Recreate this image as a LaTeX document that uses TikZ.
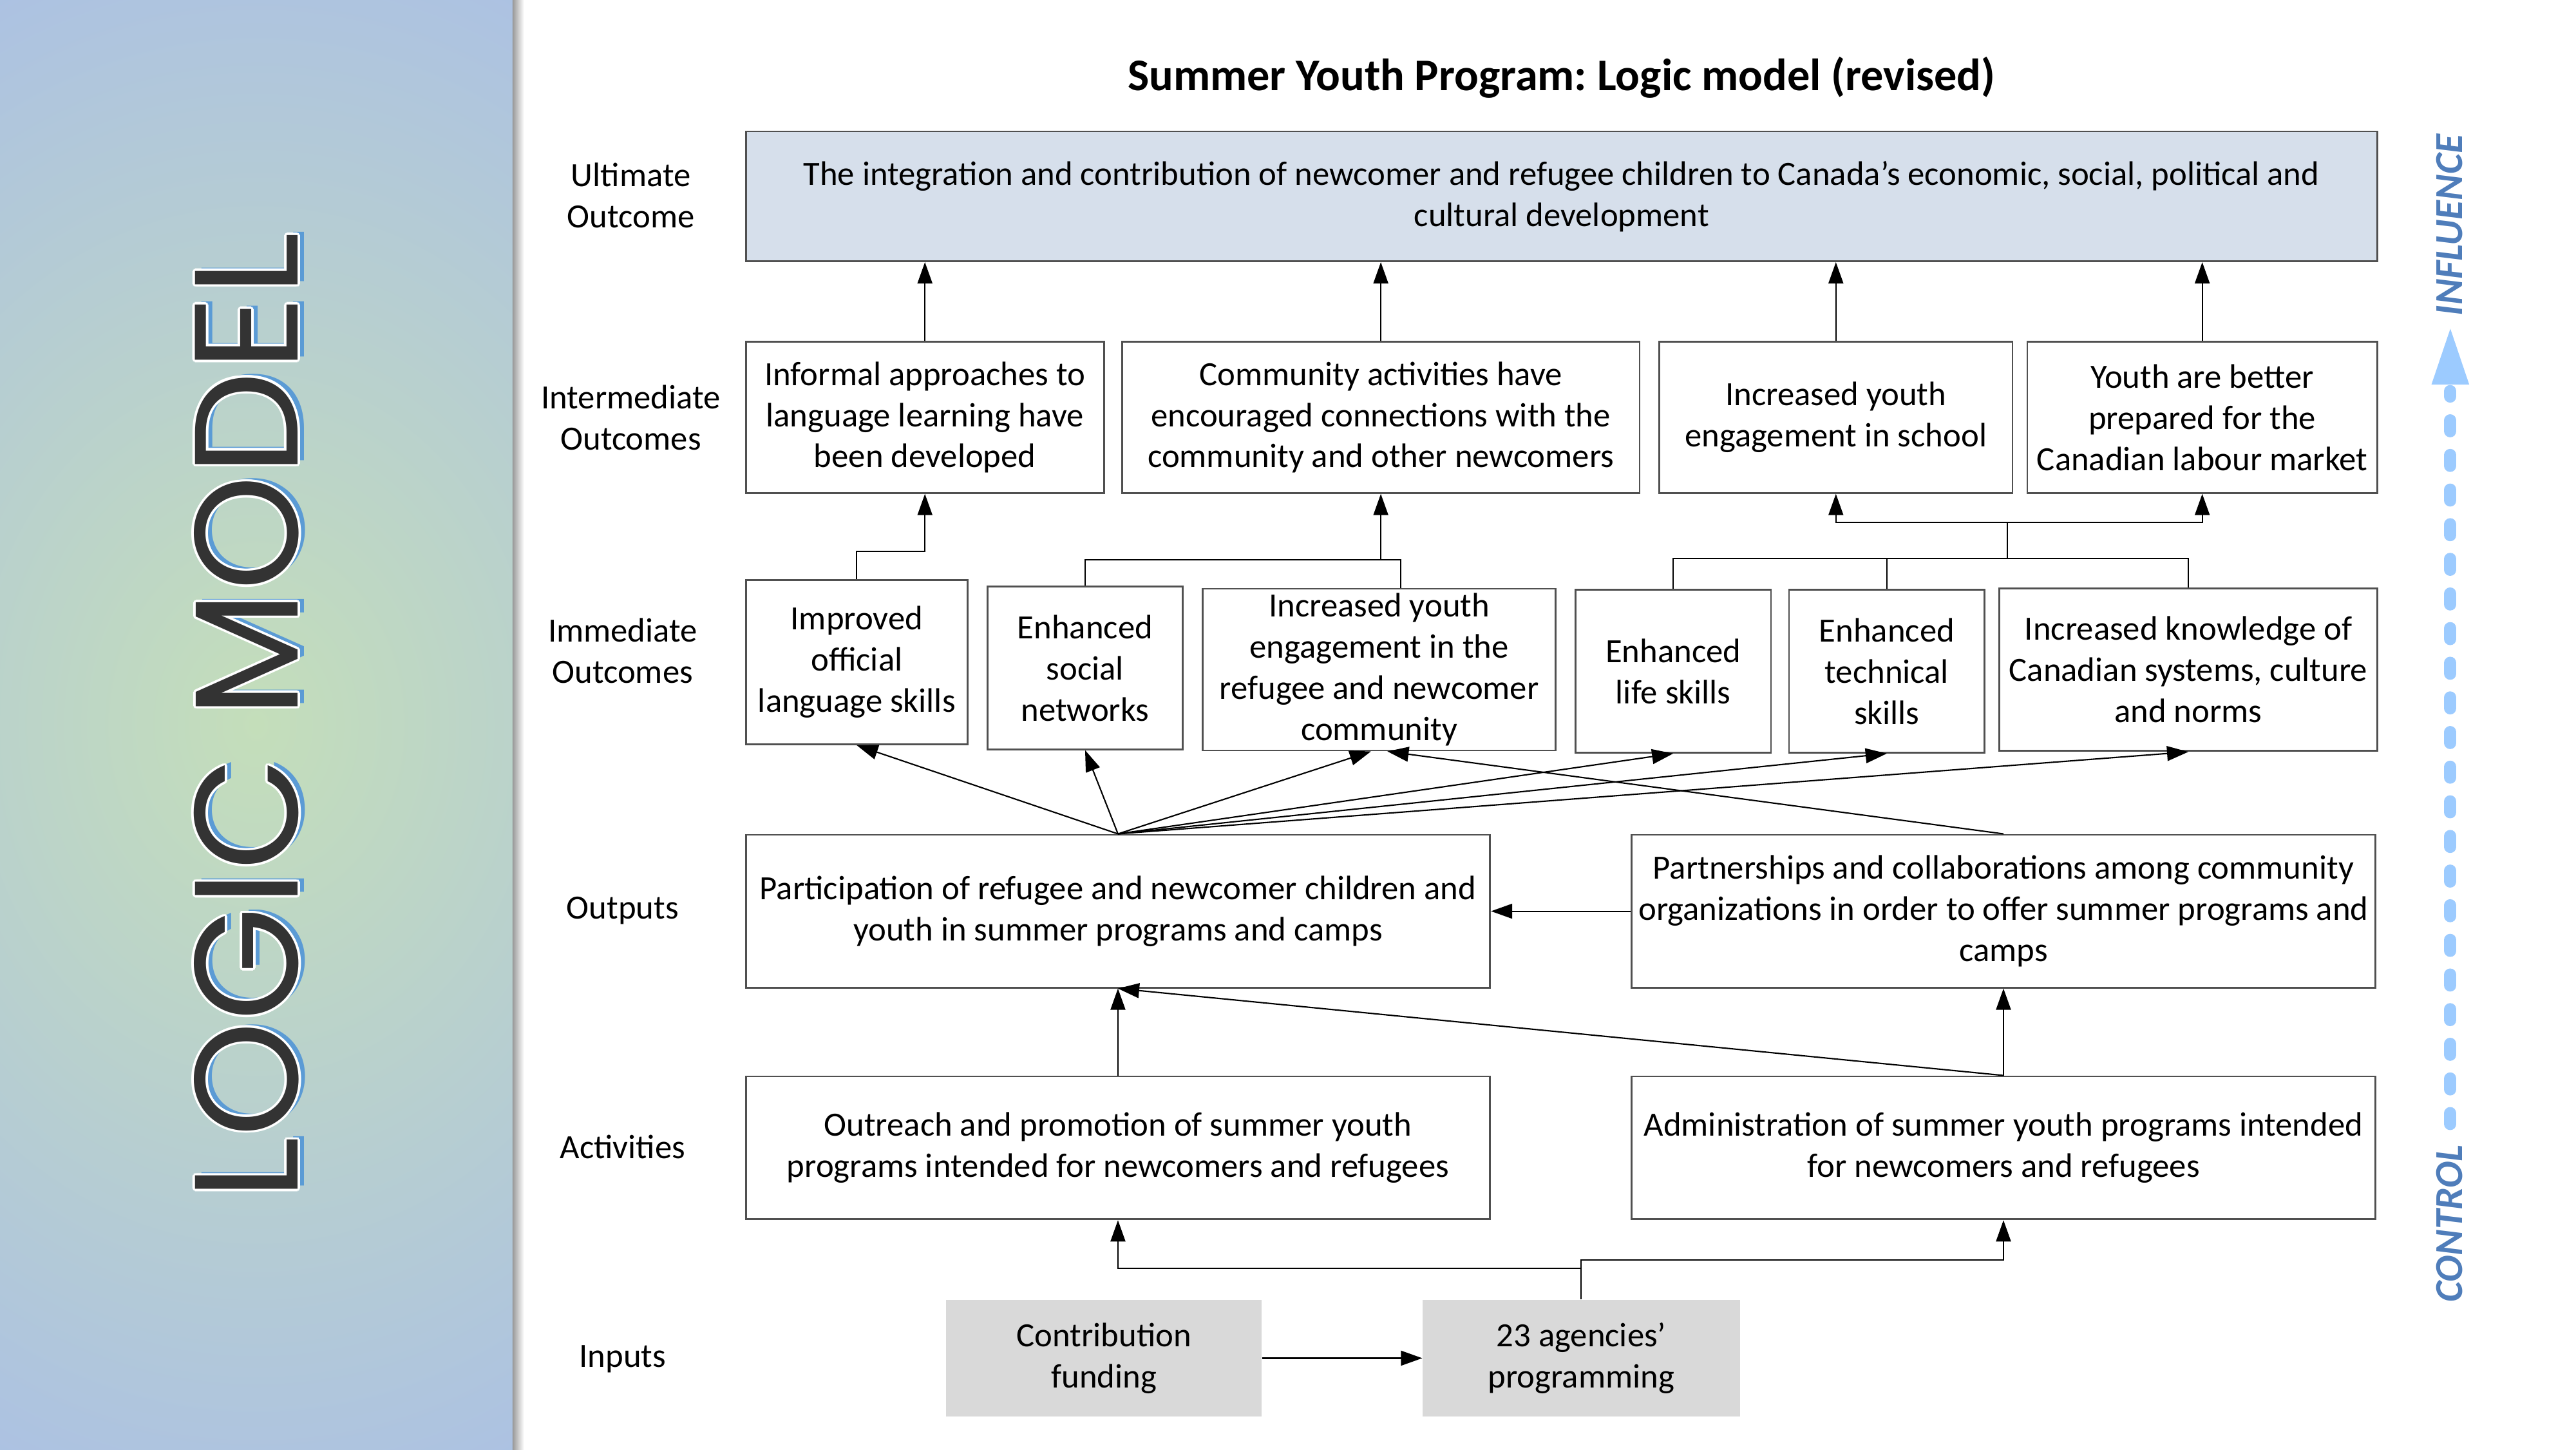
\documentclass[tikz,border=0pt]{standalone}
\usepackage{fontspec}
\setmainfont{Carlito}
\newfontfamily\logofont{Poppins}
\usetikzlibrary{arrows.meta,positioning,calc}
\definecolor{UltFill}{HTML}{D6DFEB}
\definecolor{InFill}{HTML}{D9D9D9}
\definecolor{BoxLine}{HTML}{505050}
\definecolor{PanelGreen}{HTML}{C4DEBA}
\definecolor{PanelBlue}{HTML}{AABFE6}
\definecolor{PanelLight}{HTML}{C6D3EC}
\definecolor{LogoShadow}{HTML}{5B9BD5}
\definecolor{LogoInk}{HTML}{333333}
\definecolor{GaugeText}{HTML}{4F7DBA}
\definecolor{GaugeArrow}{HTML}{9CCBFF}
\pgfdeclareradialshading{panel}{\pgfpoint{0bp}{0bp}}{color(0bp)=(PanelGreen); color(30bp)=(PanelBlue); color(44bp)=(PanelBlue); color(50bp)=(PanelLight)}
\def\px{0.2551mm}

\begin{document}
\begin{tikzpicture}[x=\px, y=-\px, >={Triangle[length=3.3mm,width=2.3mm]},
   font=\fontsize{15}{18.2}\selectfont,
   box/.style={draw=BoxLine, line width=0.8pt, align=center, inner sep=2pt},
   sz/.style 2 args={minimum width=#1*\px, minimum height=#2*\px},
   level/.style={align=center},
   arr/.style={->, line width=0.6pt},
   logo/.style={rotate=90, inner sep=0pt, font=\logofont\fontsize{65}{65}\selectfont},
   gauge/.style={rotate=90, inner sep=0pt, text=GaugeText,
                 font=\bfseries\itshape\fontsize{17.5}{17.5}\selectfont}]
  \useasboundingbox (0,0) rectangle (1568,882);

  % side panel
  \begin{scope}
    \clip (0,0) rectangle (312,882);
    \shade[shading=panel] (-200,0) rectangle (512,882);
  \end{scope}
  \shade[left color=black!40, right color=white] (312,0) rectangle (319,882);
  \node[logo, text=LogoShadow] (logoS) at (154,434) {LOGIC MODEL};
  \foreach \a in {0,30,...,330}
    \node[logo, text=white] (logoW\a) at ($(150,436)+(\a:1.4)$) {LOGIC MODEL};
  \node[logo, text=LogoInk] (logo) at (150,436) {LOGIC MODEL};

  \node[font=\bfseries\fontsize{20}{24}\selectfont\frenchspacing] (title) at (950.5,47)
    {Summer Youth Program: Logic model (revised)};

  % row labels
  \node[level] (lu) at (384,119) {Ultimate\\Outcome};
  \node[level] (li) at (384,254) {Intermediate\\Outcomes};
  \node[level] (lm) at (379,396) {Immediate\\Outcomes};
  \node[level] (lo) at (379,554) {Outputs};
  \node[level] (la) at (379,698) {Activities};
  \node[level] (lp) at (379,827) {Inputs};

  % boxes
  \node[box, fill=UltFill, sz={993}{79}] (u) at (950.5,119.5)
    {The integration and contribution of newcomer and refugee children to Canada’s economic, social, political and\\cultural development};

  \node[box, sz={218}{92}] (i1) at (563,254)    {Informal approaches to\\language learning have\\been developed};
  \node[box, sz={315}{92}] (i2) at (840.5,254)  {Community activities have\\encouraged connections with the\\community and other newcomers};
  \node[box, sz={215}{92}] (i3) at (1117.5,254) {Increased youth\\engagement in school};
  \node[box, sz={213}{92}] (i4) at (1340.5,254) {Youth are better\\prepared for the\\Canadian labour market};

  \node[box, sz={135}{100}] (m1) at (521.5,403)  {Improved\\official\\language skills};
  \node[box, sz={119}{99}]  (m2) at (660.5,406.5) {Enhanced\\social\\networks};
  \node[box, sz={215}{97}]  (m3) at (839.5,407.5) {Increased youth\\engagement in the\\refugee and newcomer\\community};
  \node[box, sz={119}{99}]  (m4) at (1018.5,408.5) {Enhanced\\life skills};
  \node[box, sz={119}{99}]  (m5) at (1148.5,408.5) {Enhanced\\technical\\skills};
  \node[box, sz={230}{99}]  (m6) at (1332,407.5)  {Increased knowledge of\\Canadian systems, culture\\and norms};

  \node[box, sz={453}{93}] (o1) at (680.5,554.5)  {Participation of refugee and newcomer children and\\youth in summer programs and camps};
  \node[box, sz={453}{93}] (o2) at (1219.5,554.5) {Partnerships and collaborations among community\\organizations in order to offer summer programs and\\camps};

  \node[box, sz={453}{87}] (a1) at (680.5,698.5)  {Outreach and promotion of summer youth\\programs intended for newcomers and refugees};
  \node[box, sz={453}{87}] (a2) at (1219.5,698.5) {Administration of summer youth programs intended\\for newcomers and refugees};

  \node[fill=InFill, align=center, sz={192}{71}] (p1) at (672,826.5) {Contribution\\funding};
  \node[fill=InFill, align=center, sz={193}{71}] (p2) at (962.5,826.5) {23 agencies’\\programming};

  % inputs -> activities
  \draw[arr] (p1) -- (p2);
  \draw[arr] (p2.north) -- ++(0,-19) -| (a1.south);
  \draw[arr] (p2.north) -- ++(0,-24) -| (a2.south);

  % activities -> outputs
  \draw[arr] (a1.north) -- (o1.south);
  \draw[arr] (a2.north) -- (o2.south);
  \draw[arr] (a2.north) -- (o1.south);
  \draw[arr] (o2.west) -- (o1.east);

  % outputs -> immediate
  \foreach \t in {m1,m2,m4,m5,m6}
    \draw[arr] (o1.north) -- (\t.south);
  \draw[arr] (o1.north) -- ($(m3.south)+(-5,0)$);
  \draw[arr] (o2.north) -- ($(m3.south)+(5,0)$);

  % immediate -> intermediate
  \draw[arr] (m1.north) -- ++(0,-17) -| (i1.south);
  \coordinate (j2) at ($(i2.south)+(0,40)$);
  \draw[line width=0.6pt] (m2.north) |- (j2) -| ($(m3.north)+(13,0)$);
  \draw[arr] (j2) -- (i2.south);
  \coordinate (j4) at (1222,340);
  \draw[line width=0.6pt] (m4.north) |- (j4) -| (m6.north);
  \draw[line width=0.6pt] (m5.north) -- (m5.north |- j4);
  \draw[line width=0.6pt] (j4) -- ++(0,-22) coordinate (j3);
  \draw[arr] (j3) -| (i3.south);
  \draw[arr] (j3) -| (i4.south);

  % intermediate -> ultimate
  \foreach \t in {i1,i2,i3,i4}
    \draw[arr] (\t.north) -- (\t.north |- u.south);

  % control / influence scale
  \draw[GaugeArrow, line width=5.4pt, line cap=round, dash pattern=on 4.8pt off 10.5pt]
    (1491.5,684) -- (1491.5,238);
  \fill[GaugeArrow] (1480,234) -- (1491.5,200) -- (1503,234) -- cycle;
  \node[gauge] (infl) at (1491,137) {INFLUENCE};
  \node[gauge] (ctrl) at (1491,744.5) {CONTROL};
\end{tikzpicture}
\end{document}
